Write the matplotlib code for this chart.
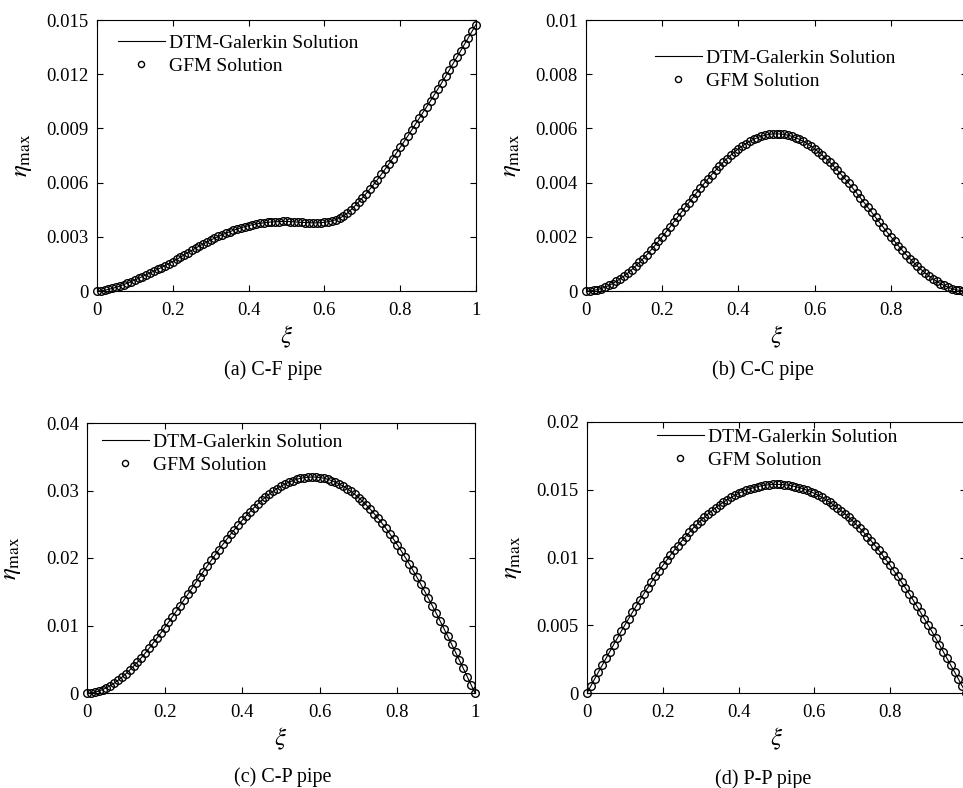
import numpy as np
import matplotlib
matplotlib.use("Agg")
import matplotlib.pyplot as plt

plt.rcParams['font.family'] = ['Liberation Serif', 'DejaVu Serif']
plt.rcParams['mathtext.fontset'] = 'stix'

# xi grid (0 ... 1, step 0.01)
xi = np.linspace(0, 1, 101)

# eta_max values, in units of 1e-3
eta_cf = [0, 0.01, 0.04, 0.09, 0.14, 0.20, 0.27, 0.35, 0.43, 0.52, 0.61,
          0.70, 0.80, 0.90, 1.00, 1.10, 1.20, 1.30, 1.41, 1.52, 1.63,
          1.75, 1.87, 2.00, 2.13, 2.25, 2.37, 2.49, 2.60, 2.71, 2.82,
          2.92, 3.02, 3.11, 3.20, 3.28, 3.36, 3.43, 3.50, 3.56, 3.62,
          3.67, 3.71, 3.75, 3.77, 3.80, 3.82, 3.83, 3.84, 3.85, 3.85,
          3.84, 3.83, 3.81, 3.80, 3.79, 3.78, 3.77, 3.77, 3.78, 3.80,
          3.84, 3.88, 3.95, 4.03, 4.15, 4.30, 4.49, 4.70, 4.92, 5.15,
          5.39, 5.64, 5.90, 6.17, 6.45, 6.74, 7.03, 7.33, 7.64, 7.95,
          8.26, 8.58, 8.90, 9.23, 9.55, 9.88, 10.20, 10.53, 10.86, 11.20,
          11.54, 11.89, 12.24, 12.60, 12.95, 13.31, 13.67, 14.03, 14.39, 14.75]

eta_cc = [0, 0.006, 0.023, 0.051, 0.091, 0.142, 0.204, 0.276, 0.359, 0.451, 0.554,
          0.665, 0.786, 0.915, 1.052, 1.195, 1.346, 1.503, 1.665, 1.833, 2.004,
          2.179, 2.356, 2.536, 2.718, 2.900, 3.082, 3.263, 3.443, 3.622, 3.796,
          3.968, 4.134, 4.297, 4.454, 4.605, 4.748, 4.886, 5.014, 5.135, 5.247,
          5.349, 5.442, 5.524, 5.596, 5.658, 5.709, 5.749, 5.777, 5.794, 5.800,
          5.794, 5.777, 5.749, 5.709, 5.658, 5.596, 5.524, 5.442, 5.349, 5.247,
          5.135, 5.014, 4.886, 4.748, 4.605, 4.454, 4.297, 4.134, 3.968, 3.796,
          3.622, 3.443, 3.263, 3.082, 2.900, 2.718, 2.536, 2.356, 2.179, 2.004,
          1.833, 1.665, 1.503, 1.346, 1.195, 1.052, 0.915, 0.786, 0.665, 0.554,
          0.451, 0.359, 0.276, 0.204, 0.142, 0.091, 0.051, 0.023, 0.006, 0]

eta_cp = [0, 0.032, 0.127, 0.283, 0.496, 0.764, 1.084, 1.455, 1.873, 2.336, 2.841,
          3.386, 3.968, 4.585, 5.234, 5.912, 6.618, 7.349, 8.101, 8.873, 9.663,
          10.467, 11.284, 12.111, 12.946, 13.786, 14.632, 15.480, 16.324, 17.164, 17.991,
          18.813, 19.632, 20.440, 21.235, 22.006, 22.759, 23.501, 24.222, 24.920, 25.586,
          26.228, 26.847, 27.437, 27.996, 28.520, 29.012, 29.472, 29.898, 30.286, 30.636,
          30.946, 31.219, 31.453, 31.648, 31.798, 31.906, 31.974, 32.000, 31.983, 31.921,
          31.817, 31.669, 31.478, 31.243, 30.967, 30.647, 30.282, 29.877, 29.430, 28.942,
          28.414, 27.842, 27.231, 26.582, 25.899, 25.179, 24.417, 23.622, 22.793, 21.937,
          21.046, 20.122, 19.168, 18.188, 17.185, 16.159, 15.103, 14.024, 12.927, 11.816,
          10.686, 9.537, 8.373, 7.198, 6.017, 4.828, 3.630, 2.423, 1.211, 0]

eta_pp = [0, 0.51, 1.03, 1.54, 2.04, 2.55, 3.05, 3.55, 4.05, 4.54, 5.02,
          5.49, 5.96, 6.43, 6.88, 7.33, 7.76, 8.19, 8.61, 9.01, 9.41,
          9.79, 10.17, 10.53, 10.88, 11.22, 11.54, 11.86, 12.16, 12.44, 12.72,
          12.98, 13.23, 13.46, 13.68, 13.89, 14.08, 14.27, 14.43, 14.59, 14.73,
          14.86, 14.97, 15.07, 15.16, 15.23, 15.29, 15.34, 15.37, 15.39, 15.40,
          15.39, 15.37, 15.34, 15.29, 15.23, 15.16, 15.07, 14.97, 14.86, 14.73,
          14.59, 14.43, 14.27, 14.08, 13.89, 13.68, 13.46, 13.23, 12.98, 12.72,
          12.44, 12.16, 11.86, 11.54, 11.22, 10.88, 10.53, 10.17, 9.79, 9.41,
          9.01, 8.61, 8.19, 7.76, 7.33, 6.88, 6.43, 5.96, 5.49, 5.02,
          4.54, 4.05, 3.55, 3.05, 2.55, 2.04, 1.54, 1.03, 0.51, 0]

yticks_cf = [0, 0.003, 0.006, 0.009, 0.012, 0.015]
yticks_cc = [0, 0.002, 0.004, 0.006, 0.008, 0.01]
yticks_cp = [0, 0.01, 0.02, 0.03, 0.04]
yticks_pp = [0, 0.005, 0.01, 0.015, 0.02]
xticks = [0, 0.2, 0.4, 0.6, 0.8, 1]

captions = ['(a) C-F pipe', '(b) C-C pipe', '(c) C-P pipe', '(d) P-P pipe']

W, H = 963, 788
fig = plt.figure(figsize=(W / 100, H / 100), dpi=100)


def px_axes(l, t, r, b):
    return fig.add_axes([l / W, 1 - b / H, (r - l) / W, (b - t) / H])


# axes, data, y ticks, legend corner (px), is right column (cut at the edge)
panels = [
    (px_axes(97, 20, 476, 291), eta_cf, yticks_cf, (118, 34), False),
    (px_axes(586, 20, 967, 291), eta_cc, yticks_cc, (655, 49), True),
    (px_axes(87, 423, 475, 693), eta_cp, yticks_cp, (102, 433), False),
    (px_axes(587, 422, 966, 693), eta_pp, yticks_pp, (657, 428), True),
]

fs = 13
for ax, eta, yt, (lx, ly), cut in panels:
    y = np.array(eta) * 1e-3
    ax.plot(xi, y, 'k-', lw=0.8, label='DTM-Galerkin Solution')
    ax.plot(xi, y, 'o', color='k', mfc='none', ms=5.5, mew=1.0,
            clip_on=False, label='GFM Solution')
    ax.set_xlim(0, 1)
    ax.set_ylim(yt[0], yt[-1])
    ax.set_xticks(xticks)
    # the right-hand panels run past the edge of the picture, so "1" is not seen
    ax.set_xticklabels([('' if (cut and v == 1) else f'{v:g}') for v in xticks])
    ax.set_yticks(yt)
    ax.set_yticklabels([f'{v:g}' for v in yt])
    ax.tick_params(direction='in', top=True, right=True, length=4,
                   width=0.8, labelsize=fs + 0.5)
    ax.tick_params(axis='y', pad=6)
    ax.tick_params(axis='x', pad=8)
    for s in ax.spines.values():
        s.set_linewidth(0.8)
    ax.set_xlabel(r'$\xi$', fontsize=18)
    ax.xaxis.set_label_coords(0.5, -0.12)
    ax.set_ylabel(r'$\eta_{\mathrm{max}}$', fontsize=18)
    ax.yaxis.set_label_coords(-0.165, 0.5)
    ax.legend(loc='upper left', bbox_to_anchor=(lx / W, 1 - ly / H),
              bbox_transform=fig.transFigure, frameon=False, fontsize=14,
              borderpad=0, borderaxespad=0, handlelength=2.4,
              handletextpad=0.2, labelspacing=0.3, markerscale=0.8)

cap_pos = [(273, 370), (763, 370), (283, 777), (763, 779)]
for txt, (cx, cy) in zip(captions, cap_pos):
    fig.text(cx / W, 1 - cy / H, txt, ha='center', va='center', fontsize=14.5)

fig.savefig('out.png', dpi=100)
